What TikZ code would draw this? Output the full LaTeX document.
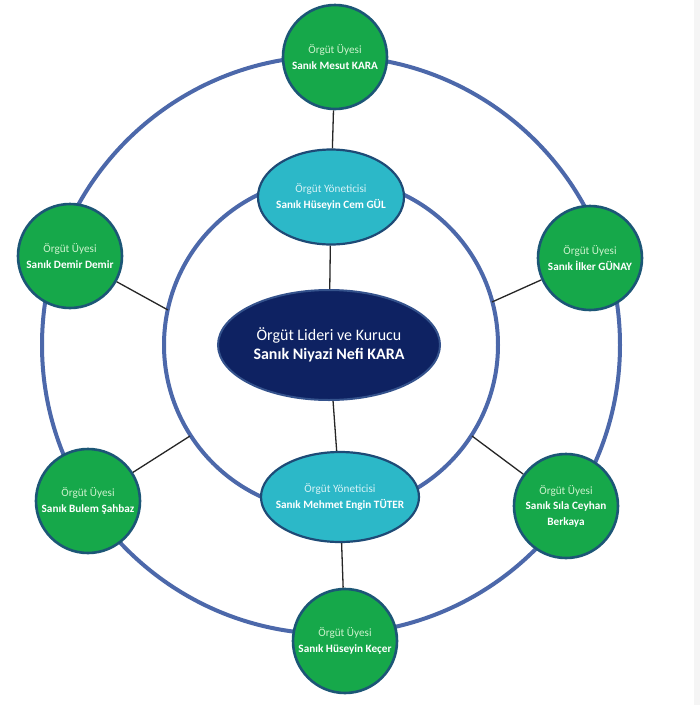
\documentclass[tikz,border=0pt]{standalone}
\usepackage{fontspec}
\setmainfont{Carlito}
\usetikzlibrary{shapes, positioning, calc, backgrounds}
\definecolor{ringblue}{RGB}{76,104,170}
\definecolor{membergreen}{RGB}{22,168,74}
\definecolor{memberedge}{RGB}{28,86,118}
\definecolor{paleGreen}{RGB}{205,242,205}
\definecolor{managercyan}{RGB}{44,184,200}
\definecolor{manageredge}{RGB}{30,74,118}
\definecolor{paleCyan}{RGB}{215,242,246}
\definecolor{leadernavy}{RGB}{14,34,98}
\definecolor{leaderedge}{RGB}{52,82,140}
\newcommand{\uyeText}[1]{{\color{paleGreen}Örgüt Üyesi}\\ \textbf{#1}}
\newcommand{\yonText}[1]{{\color{paleCyan}Örgüt Yöneticisi}\\ \textbf{#1}}

\begin{document}
\begin{tikzpicture}[x=1pt, y=-1pt,
    ring/.style={draw=ringblue, line width=4pt},
    link/.style={draw=black!85, line width=1.3pt},
    member/.style={draw=memberedge, circle, fill=membergreen, line width=2.6pt,
        minimum size=104pt, inner sep=0pt, align=center, text=white,
        font=\fontsize{11.2}{15.5}\selectfont},
    manager/.style={draw=manageredge, ellipse, fill=managercyan, line width=2.2pt,
        inner xsep=-9pt, inner ysep=0pt, align=center, text=white,
        font=\fontsize{11.2}{15.5}\selectfont},
    leader/.style={draw=leaderedge, ellipse, fill=leadernavy, line width=2pt,
        minimum width=222pt, minimum height=110pt, inner sep=0pt, align=center,
        text=white, font=\fontsize{16}{19.5}\selectfont}]
    \useasboundingbox (0,0) rectangle (700,705);
    \fill[white] (0,0) rectangle (700,705);
    \fill[gray!8] (694,0) rectangle (700,705);

    % Organisation rings
    \coordinate (hub) at (331,345);
    \draw[ring] (hub) circle (289pt);
    \draw[ring] (hub) circle (167pt);

    % Leader
    \node[leader] (lider) at (329,345)
        {Örgüt Lideri ve Kurucu\\ \textbf{Sanık Niyazi Nefi KARA}};

    % Managers
    \node[manager, minimum width=146pt, minimum height=95pt] (yonTop) at (331,197)
        {\yonText{Sanık Hüseyin Cem GÜL}};
    \node[manager, minimum width=158pt, minimum height=90pt] (yonBot) at (340,497)
        {\yonText{Sanık Mehmet Engin TÜTER}};

    % Members on the outer ring
    \node[member] (uyeTop) at (335,57) {\uyeText{Sanık Mesut KARA}};
    \node[member] (uyeTL) at (70,256) {\uyeText{Sanık Demir Demir}};
    \node[member] (uyeTR) at (590,258) {\uyeText{Sanık İlker GÜNAY}};
    \node[member] (uyeBL) at (88,501) {\uyeText{Sanık Bulem Şahbaz}};
    \node[member] (uyeBR) at (566,506) {\uyeText{Sanık Sıla Ceyhan}\\ \textbf{Berkaya}};
    \node[member] (uyeBot) at (345,641) {\uyeText{Sanık Hüseyin Keçer}};

    % Spoke ends on the inner ring
    \coordinate (sTL) at (168,310);
    \coordinate (sTR) at (492,302);
    \coordinate (sBL) at (190,436);
    \coordinate (sBR) at (472,436);

    % Chain of command
    \draw[link] (uyeTop) -- (yonTop);
    \draw[link] (yonTop) -- (lider);
    \draw[link] (lider) -- (yonBot);
    \draw[link] (yonBot) -- (uyeBot);
    \foreach \m/\s in {uyeTL/sTL, uyeTR/sTR, uyeBL/sBL, uyeBR/sBR} {
        \draw[link] (\m) -- (\s);
    }
\end{tikzpicture}
\end{document}
